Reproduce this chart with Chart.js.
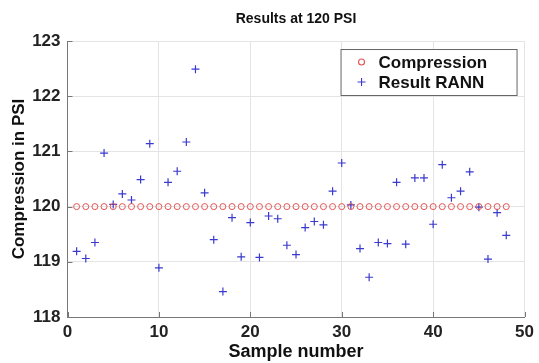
<!DOCTYPE html>
<html>
<head>
<meta charset="utf-8">
<title>Results at 120 PSI</title>
<script src="https://cdn.jsdelivr.net/npm/chart.js@4/dist/chart.umd.min.js"></script>
<style>
  html, body { margin: 0; padding: 0; background: #fff; }
  #box { width: 539px; height: 363px; }
</style>
</head>
<body>
<div id="box"><canvas id="grafico"></canvas></div>
<script>
  const amostras = [1, 2, 3, 4, 5, 6, 7, 8, 9, 10, 11, 12, 13, 14, 15, 16, 17, 18, 19, 20, 21, 22, 23, 24,
    25, 26, 27, 28, 29, 30, 31, 32, 33, 34, 35, 36, 37, 38, 39, 40, 41, 42, 43, 44, 45, 46, 47, 48];
  const compressao = [120, 120, 120, 120, 120, 120, 120, 120, 120, 120, 120, 120, 120, 120, 120, 120,
    120, 120, 120, 120, 120, 120, 120, 120, 120, 120, 120, 120, 120, 120, 120, 120,
    120, 120, 120, 120, 120, 120, 120, 120, 120, 120, 120, 120, 120, 120, 120, 120];
  const rann = [119.19, 119.06, 119.35, 120.97, 120.04, 120.23, 120.12, 120.49, 121.14, 118.89, 120.44, 120.64,
    121.17, 122.49, 120.25, 119.40, 118.46, 119.80, 119.09, 119.71, 119.08, 119.83, 119.78, 119.30,
    119.13, 119.62, 119.73, 119.67, 120.28, 120.79, 120.03, 119.24, 118.72, 119.35, 119.33, 120.44,
    119.32, 120.52, 120.52, 119.68, 120.76, 120.16, 120.28, 120.63, 119.99, 119.05, 119.89, 119.48];
  const ticksX = [0, 10, 20, 30, 40, 50];
  const ticksY = [118, 119, 120, 121, 122, 123];

  const fonte = '"Liberation Sans", Arial, Helvetica, sans-serif';
  const corCirculo = 'rgb(226, 84, 84)';
  const corCruz = 'rgb(58, 58, 205)';

  // marcas pequenas para dentro, como no matlab
  const marcasInternas = {
    id: 'marcasInternas',
    beforeDatasetsDraw(chart) {
      const { ctx, chartArea, scales } = chart;
      ctx.save();
      ctx.strokeStyle = '#777';
      ctx.lineWidth = 1;
      ticksX.forEach(v => {
        const px = Math.round(scales.x.getPixelForValue(v)) + 0.5;
        ctx.beginPath();
        ctx.moveTo(px, chartArea.bottom);
        ctx.lineTo(px, chartArea.bottom - 5);
        ctx.stroke();
      });
      ticksY.forEach(v => {
        const py = Math.round(scales.y.getPixelForValue(v)) + 0.5;
        ctx.beginPath();
        ctx.moveTo(chartArea.left, py);
        ctx.lineTo(chartArea.left + 5, py);
        ctx.stroke();
      });
      ctx.restore();
    }
  };

  const legendaCaixa = {
    id: 'legendaCaixa',
    afterDraw(chart) {
      const { ctx, chartArea } = chart;
      const w = 176, h = 46;
      const x = chartArea.right - w - 8, y = chartArea.top + 8;
      ctx.save();
      ctx.fillStyle = '#fff';
      ctx.fillRect(x, y, w, h);
      ctx.strokeStyle = '#666';
      ctx.lineWidth = 1;
      ctx.strokeRect(x + 0.5, y + 0.5, w, h);

      const linhas = [
        { texto: 'Compression', tipo: 'circle', cor: corCirculo },
        { texto: 'Result RANN', tipo: 'cross', cor: corCruz }
      ];
      linhas.forEach((l, i) => {
        const cy = y + 13 + i * 20;
        const cx = x + 21;
        ctx.strokeStyle = l.cor;
        ctx.lineWidth = 1.1;
        ctx.beginPath();
        if (l.tipo === 'circle') {
          ctx.arc(cx, cy, 3, 0, Math.PI * 2);
        } else {
          ctx.moveTo(cx - 4, cy); ctx.lineTo(cx + 4, cy);
          ctx.moveTo(cx, cy - 4); ctx.lineTo(cx, cy + 4);
        }
        ctx.stroke();
        ctx.fillStyle = '#111';
        ctx.font = 'bold 17px ' + fonte;
        ctx.textBaseline = 'middle';
        ctx.textAlign = 'left';
        ctx.fillText(l.texto, x + 38, cy + 1);
      });
      ctx.restore();
    }
  };

  const ctx = document.getElementById('grafico').getContext('2d');

  new Chart(ctx, {
    type: 'scatter',
    data: {
      datasets: [
        {
          label: 'Compression',
          data: amostras.map((n, i) => ({ x: n, y: compressao[i] })),
          pointStyle: 'circle',
          pointRadius: 3,
          pointBorderWidth: 1,
          borderColor: corCirculo,
          backgroundColor: 'rgba(0,0,0,0)',
          pointHoverRadius: 3
        },
        {
          label: 'Result RANN',
          data: amostras.map((n, i) => ({ x: n, y: rann[i] })),
          pointStyle: 'cross',
          pointRadius: 4,
          pointBorderWidth: 1.2,
          borderColor: corCruz,
          backgroundColor: corCruz,
          pointHoverRadius: 4
        }
      ]
    },
    options: {
      responsive: true,
      maintainAspectRatio: false,
      animation: false,
      layout: { padding: { left: 0, right: 8, top: 0, bottom: 0 } },
      plugins: {
        legend: { display: false },
        tooltip: { enabled: false },
        title: {
          display: true,
          text: 'Results at 120 PSI',
          fullSize: false,
          color: '#111',
          font: { family: fonte, size: 14, weight: 'bold' },
          padding: { top: 11, bottom: 13.2 }
        }
      },
      scales: {
        x: {
          type: 'linear',
          min: ticksX[0],
          max: ticksX[ticksX.length - 1],
          afterBuildTicks: s => { s.ticks = ticksX.map(v => ({ value: v })); },
          afterFit: s => { s.height = 46; },
          grid: { color: '#e4e4e4', drawTicks: false },
          border: { color: '#777', width: 1 },
          ticks: { color: '#222', padding: 5, font: { family: fonte, size: 17, weight: 'bold' } },
          title: {
            display: true,
            text: 'Sample number',
            color: '#111',
            padding: { top: 0, bottom: 0 },
            font: { family: fonte, size: 18, weight: 'bold' }
          }
        },
        y: {
          min: ticksY[0],
          max: ticksY[ticksY.length - 1],
          afterBuildTicks: s => { s.ticks = ticksY.map(v => ({ value: v })); },
          afterFit: s => { s.width = 67.5; },
          grid: { color: '#e4e4e4', drawTicks: false },
          border: { color: '#777', width: 1 },
          ticks: { color: '#222', padding: 7, font: { family: fonte, size: 17, weight: 'bold' } },
          title: {
            display: true,
            text: 'Compression in PSI',
            color: '#111',
            padding: { top: 9, bottom: 0 },
            font: { family: fonte, size: 17, weight: 'bold' }
          }
        }
      }
    },
    plugins: [marcasInternas, legendaCaixa]
  });
</script>
</body>
</html>
